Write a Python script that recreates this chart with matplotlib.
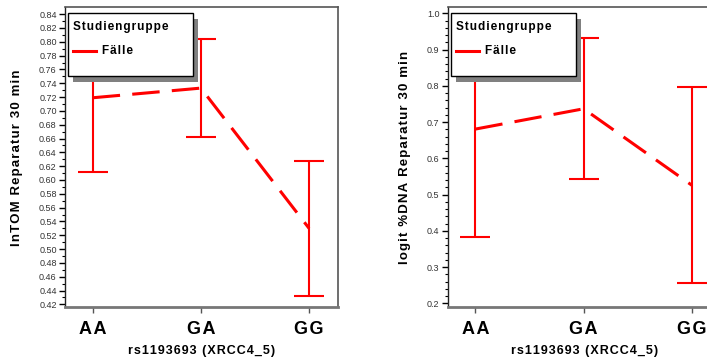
import matplotlib
matplotlib.use("Agg")
import matplotlib.pyplot as plt
from matplotlib.patches import Rectangle
from matplotlib.lines import Line2D
from matplotlib.ticker import MultipleLocator, FormatStrFormatter

plt.rcParams['font.family'] = ['Liberation Sans', 'DejaVu Sans']

genotypes = ["AA", "GA", "GG"]

# lnTOM repair after 30 min: means and error half-widths
tom_mean = [0.719, 0.733, 0.530]
tom_err = [0.108, 0.071, 0.098]

# logit %DNA repair after 30 min: means and error half-widths
dna_mean = [0.681, 0.737, 0.526]
dna_err = [0.298, 0.195, 0.270]

x_title = "rs1193693 (XRCC4_5)"
legend_title = "Studiengruppe"
series_name = "Fälle"

RED = "#ff0000"
HAIR = "\u200a"


def spaced(s):
    """Widen letter spacing with hair spaces between characters."""
    return HAIR.join(s)


fig = plt.figure(figsize=(7.07, 3.63), dpi=100)
ax_w, ax_h = 0.3858, 0.826
ax1 = fig.add_axes([0.0919, 0.1534, ax_w, ax_h])
ax2 = fig.add_axes([0.6333, 0.1534, ax_w, ax_h])


def draw_panel(ax, means, errs, ylim, major, minor, fmt, ylabel):
    xs = list(range(len(genotypes)))
    ax.errorbar(xs, means, yerr=errs, fmt='none', ecolor=RED,
                elinewidth=1.5, capsize=11, capthick=1.5, zorder=3)
    ax.plot(xs, means, color=RED, lw=2.2, linestyle=(0, (9, 4)),
            solid_capstyle='butt', dash_capstyle='butt', zorder=4)
    ax.set_xlim(-0.256, 2.265)
    ax.set_ylim(*ylim)
    ax.set_xticks(xs)
    ax.set_xticklabels([spaced(g) for g in genotypes], fontsize=13,
                       fontweight='bold')
    ax.yaxis.set_major_locator(MultipleLocator(major))
    ax.yaxis.set_minor_locator(MultipleLocator(minor))
    ax.yaxis.set_major_formatter(FormatStrFormatter(fmt))
    ax.tick_params(axis='y', which='major', length=4, width=1,
                   labelsize=6.5, labelcolor='#333333', pad=2)
    ax.tick_params(axis='y', which='minor', length=2.5, width=0.8)
    ax.tick_params(axis='x', length=4, width=1, color='#555555', pad=6)
    for side in ('top', 'right'):
        ax.spines[side].set_color('#555555')
        ax.spines[side].set_linewidth(1.2)
    ax.spines['bottom'].set_color('#777777')
    ax.spines['bottom'].set_linewidth(2)
    ax.spines['left'].set_color('#222222')
    ax.spines['left'].set_linewidth(1)
    ax.set_xlabel(spaced(x_title), fontsize=9, fontweight='bold', labelpad=5)
    ax.set_ylabel(spaced(ylabel), fontsize=9.5, fontweight='bold')

    # legend box with drop shadow
    x0, x1, yt, yb = 0.011, 0.469, 0.982, 0.772
    ax.add_patch(Rectangle((x0 + 0.020, yb - 0.020), x1 - x0, yt - yb,
                           transform=ax.transAxes, facecolor='#808080',
                           edgecolor='none', zorder=9, clip_on=False))
    ax.add_patch(Rectangle((x0, yb), x1 - x0, yt - yb,
                           transform=ax.transAxes, facecolor='white',
                           edgecolor='black', lw=1, zorder=10, clip_on=False))
    ax.text(0.029, 0.935, spaced(legend_title), transform=ax.transAxes,
            fontsize=8.5, fontweight='bold', va='center', ha='left', zorder=11)
    ax.add_line(Line2D([0.029, 0.114], [0.855, 0.855], transform=ax.transAxes,
                       color=RED, lw=2.2, zorder=11))
    ax.text(0.136, 0.855, spaced(series_name), transform=ax.transAxes,
            fontsize=8.5, fontweight='bold', va='center', ha='left', zorder=11)


draw_panel(ax1, tom_mean, tom_err, (0.4157, 0.8497), 0.02, 0.01, '%.2f',
           "lnTOM Reparatur 30 min")
draw_panel(ax2, dna_mean, dna_err, (0.189, 1.0166), 0.1, 0.02, '%.1f',
           "logit %DNA Reparatur 30 min")

ax1.yaxis.set_label_coords(-0.154, 0.5)
ax2.yaxis.set_label_coords(-0.135, 0.5)

fig.savefig("out.png", dpi=100)
